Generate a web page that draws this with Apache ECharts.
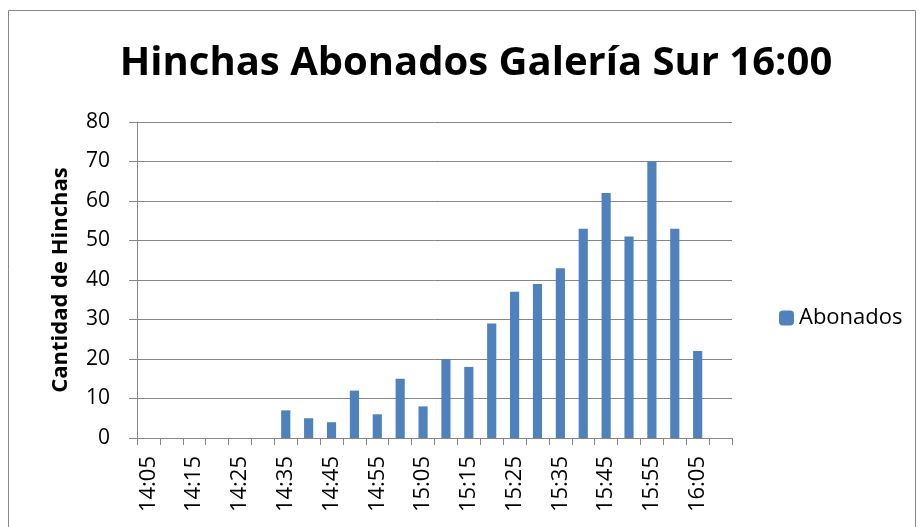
<!DOCTYPE html>
<html>
<head>
<meta charset="utf-8">
<script src="https://cdn.jsdelivr.net/npm/echarts@6/dist/echarts.min.js"></script>
<style>
  html, body { margin: 0; padding: 0; background: #fff; }
  #chart { width: 924px; height: 527px; }
</style>
</head>
<body>
<div id="chart"></div>
<script>
// horas cada 5 minutos, 14:05 - 16:10
let horas = [
  "14:05", "14:10", "14:15", "14:20", "14:25", "14:30", "14:35", "14:40",
  "14:45", "14:50", "14:55", "15:00", "15:05", "15:10", "15:15", "15:20",
  "15:25", "15:30", "15:35", "15:40", "15:45", "15:50", "15:55", "16:00",
  "16:05", "16:10"
];
let abonados = [
  0, 0, 0, 0, 0, 0, 7, 5,
  4, 12, 6, 15, 8, 20, 18, 29,
  37, 39, 43, 53, 62, 51, 70, 53,
  22, null
];
let yTicks = [0, 10, 20, 30, 40, 50, 60, 70, 80];

let font = "'Open Sans', 'Noto Sans', sans-serif";
let chartDom = document.getElementById("chart");
let myChart = echarts.init(chartDom);
let option = {
  animation: false,
  graphic: [
    {
      type: "rect",
      shape: { x: 8.5, y: 10.5, width: 907, height: 530 },
      style: { fill: null, stroke: "#888", lineWidth: 1 },
      silent: true,
    },
  ],
  title: {
    text: "Hinchas Abonados Galería Sur 16:00",
    left: 471,
    textAlign: "center",
    top: 39,
    textStyle: {
      fontFamily: font,
      fontWeight: "bold",
      fontSize: 40,
      color: "#000",
    },
  },
  legend: {
    left: 774,
    top: 302,
    itemWidth: 15,
    itemHeight: 15,
    textStyle: { fontFamily: font, fontSize: 22, color: "#000" },
    data: ["Abonados"],
  },
  grid: {
    left: 137,
    right: 192,
    top: 122,
    bottom: 89,
  },
  xAxis: {
    type: "category",
    data: horas,
    boundaryGap: true,
    axisLine: { lineStyle: { color: "#868686", width: 1 } },
    axisTick: {
      show: true,
      interval: 0,
      length: 7,
      lineStyle: { color: "#868686" },
    },
    axisLabel: {
      interval: 1,
      rotate: 90,
      fontFamily: font,
      fontSize: 22,
      color: "#000",
      margin: 18,
    },
  },
  yAxis: {
    type: "value",
    min: yTicks[0],
    max: yTicks[yTicks.length - 1],
    interval: 10,
    name: "Cantidad de Hinchas",
    nameLocation: "middle",
    nameGap: 65,
    nameTextStyle: {
      fontFamily: font,
      fontWeight: "bold",
      fontSize: 22,
      color: "#000",
    },
    axisLine: { show: true, lineStyle: { color: "#868686" } },
    axisTick: { show: true, length: 8, lineStyle: { color: "#868686" } },
    splitLine: { lineStyle: { color: "#868686", width: 1 } },
    axisLabel: {
      fontFamily: font,
      fontSize: 21,
      color: "#000",
      margin: 27,
    },
  },
  series: [
    {
      name: "Abonados",
      type: "bar",
      data: abonados,
      barWidth: "40%",
      itemStyle: { color: "#4f81bd" },
    },
  ],
};
option && myChart.setOption(option);
</script>
</body>
</html>
